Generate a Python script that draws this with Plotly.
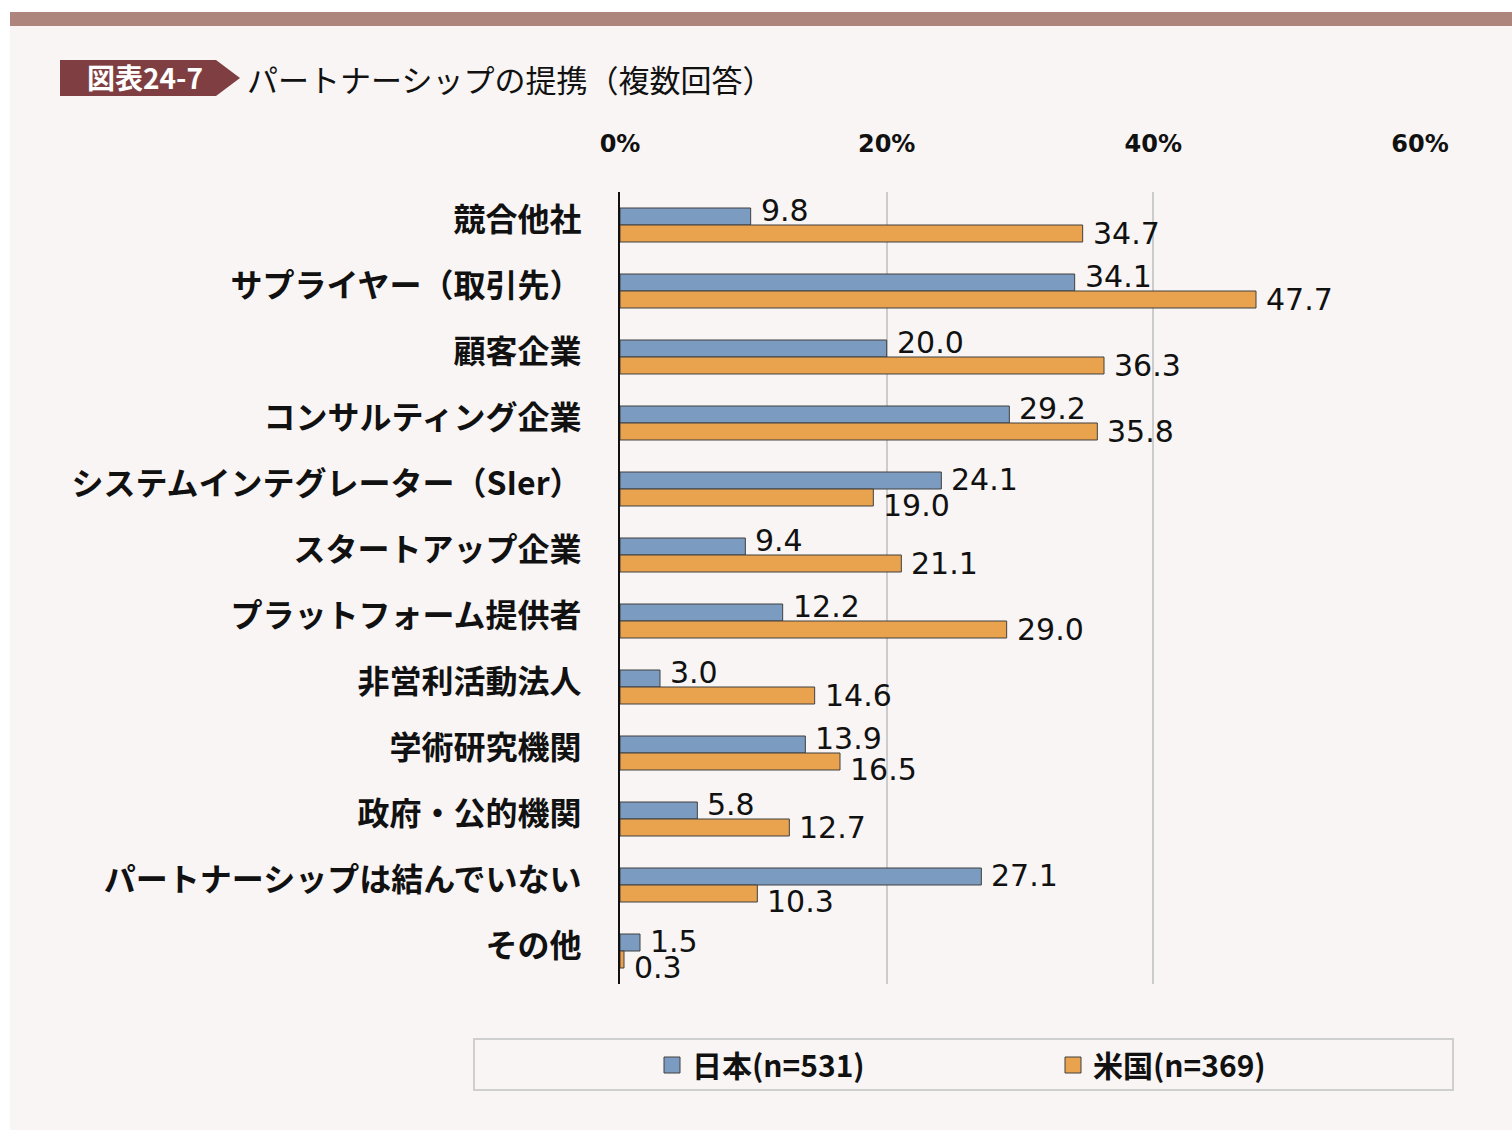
import plotly.graph_objects as go

categories = [
    "競合他社",
    "サプライヤー（取引先）",
    "顧客企業",
    "コンサルティング企業",
    "システムインテグレーター（SIer）",
    "スタートアップ企業",
    "プラットフォーム提供者",
    "非営利活動法人",
    "学術研究機関",
    "政府・公的機関",
    "パートナーシップは結んでいない",
    "その他",
]
japan = [9.8, 34.1, 20.0, 29.2, 24.1, 9.4, 12.2, 3.0, 13.9, 5.8, 27.1, 1.5]
usa = [34.7, 47.7, 36.3, 35.8, 19.0, 21.1, 29.0, 14.6, 16.5, 12.7, 10.3, 0.3]
series_names = ["日本(n=531)", "米国(n=369)"]
x_ticks = [0, 20, 40, 60]
x_tick_labels = ["0%", "20%", "40%", "60%"]

W, H = 1512, 1138
ML, MR, MT, MB = 620, 92, 192, 154
PW, PH = W - ML - MR, H - MT - MB
BARGAP = 0.485


def px(x):
    return (x - ML) / PW


def py(y):
    return (H - MB - y) / PH


BLUE = "#7b9cc0"
ORANGE = "#e9a24e"
EDGE = "#404040"
TXT = "#111111"
NUM_FONT = dict(family="DejaVu Sans", size=30, color=TXT)
JP = "Noto Sans CJK JP"

fig = go.Figure()
for name, vals, col in [(series_names[0], japan, BLUE), (series_names[1], usa, ORANGE)]:
    fig.add_trace(go.Bar(
        y=categories, x=vals, name=name, orientation="h",
        marker=dict(color=col, line=dict(color=EDGE, width=1)),
        showlegend=False, hoverinfo="x+y",
    ))

# legend entries (square swatches), one legend per series
for i, (name, col) in enumerate([(series_names[0], BLUE), (series_names[1], ORANGE)]):
    fig.add_trace(go.Scatter(
        x=[None], y=[None], mode="markers", name=name,
        marker=dict(symbol="square", size=16, color=col, line=dict(color=EDGE, width=1)),
        legend="legend" if i == 0 else "legend2", showlegend=True,
    ))

# value labels placed through the axes (data coordinates)
cat_px = PH / len(categories)
bar_px = cat_px * (1 - BARGAP) / 2
annotations = []
for c, jv, uv in zip(categories, japan, usa):
    us_below = uv < jv + 6
    jp_up = 1 if uv < jv else 6
    us_dn = 8 if us_below else 0
    annotations.append(dict(x=jv, y=c, xref="x", yref="y", text=f"{jv:.1f}", showarrow=False,
                            xanchor="left", yanchor="middle", xshift=8, yshift=bar_px / 2 + jp_up,
                            font=NUM_FONT))
    annotations.append(dict(x=uv, y=c, xref="x", yref="y", text=f"{uv:.1f}", showarrow=False,
                            xanchor="left", yanchor="middle", xshift=8, yshift=-bar_px / 2 - us_dn,
                            font=NUM_FONT))

shapes = [
    dict(type="rect", xref="paper", yref="paper", x0=px(10), x1=px(1512), y0=py(1130), y1=py(12),
         fillcolor="#f8f5f4", line=dict(width=0), layer="below"),
    dict(type="rect", xref="paper", yref="paper", x0=px(10), x1=px(1512), y0=py(26), y1=py(12),
         fillcolor="#ae857d", line=dict(width=0), layer="below"),
    dict(type="path", xref="paper", yref="paper",
         path=f"M {px(60)},{py(60)} L {px(216)},{py(60)} L {px(240)},{py(78)} L {px(216)},{py(96)} L {px(60)},{py(96)} Z",
         fillcolor="#7f3f42", line=dict(width=0), layer="below"),
    dict(type="rect", xref="paper", yref="paper", x0=px(474), x1=px(1453), y0=py(1090), y1=py(1039),
         fillcolor="rgba(0,0,0,0)", line=dict(color="#cfcfcf", width=2), layer="below"),
]

annotations += [
    dict(text="図表24-7", xref="paper", yref="paper", x=px(145), y=py(77), showarrow=False,
         xanchor="center", yanchor="middle",
         font=dict(family=JP, size=28, color="white", weight="bold")),
    dict(text="パートナーシップの提携（複数回答）", xref="paper", yref="paper", x=px(245), y=py(79),
         showarrow=False, xanchor="left", yanchor="middle",
         font=dict(family=JP, size=31, color=TXT)),
]

LEG_FONT = dict(family=JP, size=30, color=TXT, weight="bold")
fig.update_layout(
    width=W, height=H,
    margin=dict(l=ML, r=MR, t=MT, b=MB, autoexpand=False),
    paper_bgcolor="white", plot_bgcolor="rgba(0,0,0,0)",
    barmode="group", bargap=BARGAP, bargroupgap=0,
    shapes=shapes, annotations=annotations,
    showlegend=True,
    legend=dict(orientation="h", xref="container", yref="container",
                x=652 / W, y=1 - 1065 / H, xanchor="left", yanchor="middle",
                bgcolor="rgba(0,0,0,0)", borderwidth=0, font=LEG_FONT),
    legend2=dict(orientation="h", xref="container", yref="container",
                 x=1053 / W, y=1 - 1065 / H, xanchor="left", yanchor="middle",
                 bgcolor="rgba(0,0,0,0)", borderwidth=0, font=LEG_FONT),
    xaxis=dict(side="top", range=[0, 60], tickvals=x_ticks, ticktext=x_tick_labels,
               showgrid=True, gridcolor="#cccccc", gridwidth=2, zeroline=False, showline=False,
               ticks="", ticklabelstandoff=34, fixedrange=True,
               tickfont=dict(family="DejaVu Sans", size=24, color=TXT, weight="bold")),
    yaxis=dict(autorange="reversed", showline=True, linecolor=TXT, linewidth=2,
               showgrid=False, zeroline=False, ticks="", ticklabelstandoff=30,
               ticklabelshift=5, fixedrange=True,
               tickfont=dict(family=JP, size=32, color=TXT, weight="bold")),
)

fig.write_html("out.html", config={"displayModeBar": False},
               post_script="document.body.style.margin='0';")
